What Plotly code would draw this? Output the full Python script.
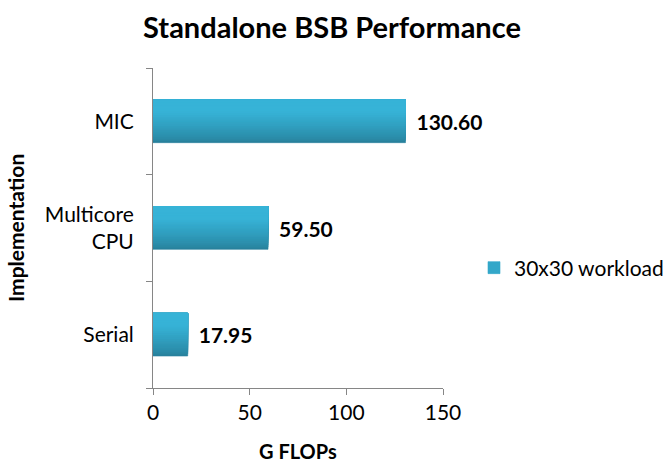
import plotly.graph_objects as go

categories = ["Serial", "Multicore<br>CPU", "MIC"]
values = [17.95, 59.50, 130.60]
series_name = "30x30 workload"
x_ticks = [0, 50, 100, 150]

FONT = "Lato, 'Open Sans', sans-serif"
W, H = 668, 464
L, R, T, B = 153, 443, 68, 388
BAR_W = 0.4

# vertical shading of the bars (bottom -> top), Excel-style gradient
C_BOTTOM = (0x28, 0x82, 0x9D)
C_TOP = (0x37, 0xB3, 0xD7)
N_BANDS = 20


def band_colour(t):
    s = min(1.0, t / 0.75)  # upper quarter stays at the light colour
    s = s ** 0.8
    r, g, b = (round(C_BOTTOM[i] + (C_TOP[i] - C_BOTTOM[i]) * s) for i in range(3))
    return f"rgb({r},{g},{b})"


fig = go.Figure()
for k in range(N_BANDS):
    col = band_colour(k / (N_BANDS - 1))
    off = -BAR_W / 2 + BAR_W * k / N_BANDS
    fig.add_trace(go.Bar(
        y=categories, x=values, orientation="h", name=series_name,
        width=BAR_W - BAR_W * k / N_BANDS, offset=off,
        marker=dict(color=col, line=dict(width=0.6, color=col)),
        showlegend=(k == N_BANDS // 2), hoverinfo="skip" if k else "x+y",
    ))
# data labels on the full-width base band
fig.data[0].update(
    texttemplate="\u00a0\u2009<b>%{x:.2f}</b>", textposition="outside",
    textfont=dict(size=21, color="#000000", family=FONT), cliponaxis=False,
)

fig.update_layout(
    width=W, height=H, barmode="overlay",
    margin=dict(l=L, r=W - R, t=T, b=H - B, pad=0, autoexpand=False),
    paper_bgcolor="white", plot_bgcolor="white",
    font=dict(family=FONT, size=21, color="#000000"),
    title=dict(text="<b>Standalone BSB Performance</b>", x=0.497, xref="container",
               y=1 - 28 / H, yref="container", yanchor="middle", xanchor="center",
               font=dict(size=29, family=FONT)),
    xaxis=dict(range=[0, 150], tickvals=x_ticks, showgrid=False, zeroline=False,
               showline=True, linecolor="#868686", linewidth=1,
               ticks="outside", ticklen=6, tickcolor="#868686",
               tickfont=dict(size=21, family=FONT), fixedrange=True),
    yaxis=dict(type="category", categoryorder="array", categoryarray=categories,
               range=[-0.5, 2.5], showgrid=False, zeroline=False,
               showline=True, linecolor="#868686", linewidth=1,
               ticks="outside", ticklen=6, tickcolor="#868686", tickson="boundaries",
               tickfont=dict(size=21, family=FONT), ticklabelstandoff=14),
    legend=dict(x=474 / W, xref="container", y=(B - 268) / (B - T), xanchor="left", yanchor="middle",
                font=dict(size=21, family=FONT), bgcolor="rgba(0,0,0,0)",
                itemwidth=30),
    annotations=[
        dict(text="<b>G FLOPs</b>", xref="paper", yref="paper", x=0.5, y=-(451 - B) / (B - T),
             yanchor="middle", xanchor="center", showarrow=False, font=dict(size=20, family=FONT)),
        dict(text="<b>Implementation</b>", xref="paper", yref="paper", x=-(L - 15) / (R - L), y=0.5,
             yanchor="middle", xanchor="center", textangle=-90, showarrow=False,
             font=dict(size=21, family=FONT)),
    ],
)

fig.write_html("out.html")
